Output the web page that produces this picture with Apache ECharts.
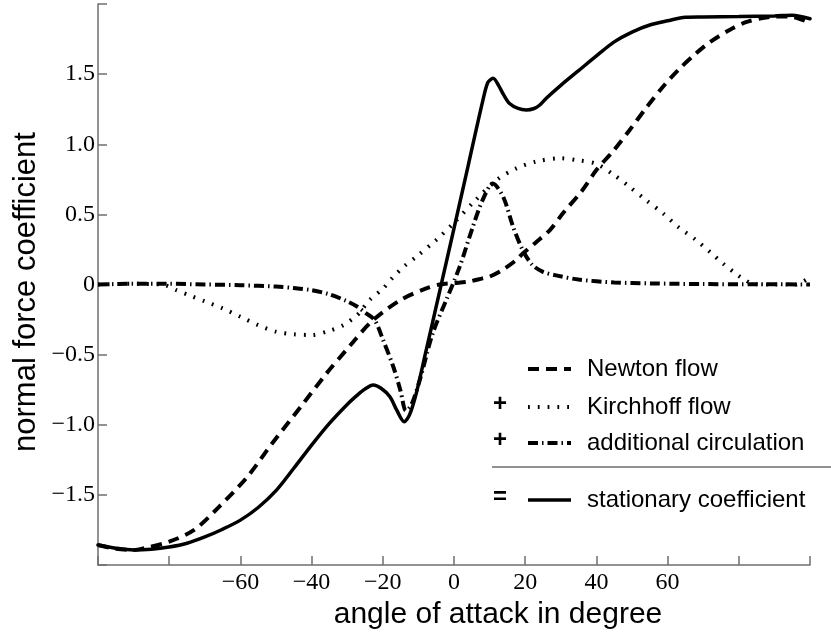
<!DOCTYPE html>
<html>
<head>
<meta charset="utf-8">
<script src="https://cdn.jsdelivr.net/npm/echarts@6/dist/echarts.min.js"></script>
<style>
  html, body { margin: 0; padding: 0; background: #fff; }
  #container { width: 831px; height: 639px; }
</style>
</head>
<body>
<div id="container"></div>
<script>
// angle of attack (deg) and coefficient
const newtonAngle = [-100, -95, -90, -87, -80, -73, -66, -58, -51, -43, -36, -29, -23, -15, -8, -4, 0, 4, 8, 10, 14, 17.5, 19.4, 23, 27, 30.6, 36, 40, 45, 49.3, 54, 58.7, 63, 68, 72, 77.4, 82, 86.7, 90, 94, 97, 100]
const newtonValue = [-1.857, -1.885, -1.893, -1.88, -1.834, -1.75, -1.585, -1.37, -1.13, -0.87, -0.64, -0.43, -0.26, -0.11, -0.03, 0.0, 0.01, 0.02, 0.044, 0.056, 0.11, 0.175, 0.222, 0.3, 0.39, 0.508, 0.67, 0.816, 0.96, 1.1, 1.26, 1.41, 1.53, 1.648, 1.73, 1.815, 1.87, 1.9, 1.91, 1.91, 1.895, 1.865]

const kirchhoffAngle = [-100, -90, -82, -78, -74, -70, -65, -60, -55, -50, -45, -40, -35, -31, -28, -26.5, -23.7, -20, -17, -14, -10.6, -5, 0, 6, 12, 17.5, 23, 29.7, 35, 40, 45, 49.3, 54, 58.7, 63, 68, 72, 75.5, 79, 81, 84, 88, 96, 98, 100]
const kirchhoffValue = [0, 0.005, 0, -0.04, -0.08, -0.12, -0.17, -0.23, -0.29, -0.336, -0.355, -0.36, -0.33, -0.289, -0.235, -0.2, -0.11, -0.03, 0.056, 0.13, 0.198, 0.317, 0.44, 0.6, 0.745, 0.828, 0.876, 0.9, 0.885, 0.86, 0.78, 0.697, 0.6, 0.508, 0.41, 0.317, 0.23, 0.151, 0.08, 0.044, 0.005, 0, 0, 0.02, 0.05]

const circulationAngle = [-100, -90, -80, -70, -60, -50, -45, -40, -35, -30, -27, -25, -22.3, -20, -17, -15, -13.5, -12, -9.6, -6, -2, 1.6, 5.3, 8, 10.9, 13.8, 16.6, 19.4, 22, 25, 28.7, 35, 45, 55, 70, 85, 100]
const circulationValue = [0, 0.005, 0.005, 0, -0.005, -0.015, -0.025, -0.04, -0.07, -0.12, -0.16, -0.2, -0.253, -0.39, -0.59, -0.76, -0.9, -0.86, -0.68, -0.35, -0.1, 0.127, 0.412, 0.6, 0.72, 0.626, 0.412, 0.24, 0.14, 0.09, 0.065, 0.035, 0.015, 0.008, 0.003, 0.002, 0]

const stationaryAngle = [-100, -95, -90, -85, -80, -75, -70, -65, -60, -55, -50, -45, -40, -35, -30, -27, -25, -22.7, -20.5, -18, -16, -14, -12.5, -10.6, -8, -4, 0, 4, 8, 9.5, 11, 12.5, 14, 15.6, 18, 20.3, 22.5, 24.1, 26, 30, 35, 40, 45, 50, 55, 60, 65, 70, 80, 90, 95, 100]
const stationaryValue = [-1.857, -1.88, -1.893, -1.888, -1.872, -1.845, -1.8, -1.745, -1.68, -1.59, -1.47, -1.31, -1.145, -0.99, -0.855, -0.785, -0.745, -0.717, -0.74, -0.8, -0.9, -0.978, -0.93, -0.776, -0.49, -0.045, 0.4, 0.85, 1.3, 1.44, 1.47, 1.42, 1.35, 1.29, 1.255, 1.244, 1.255, 1.28, 1.33, 1.42, 1.525, 1.63, 1.73, 1.8, 1.85, 1.88, 1.905, 1.907, 1.91, 1.915, 1.92, 1.895]

const xLabelled = [-60, -40, -20, 0, 20, 40, 60]
const yLabelled = [-1.5, -1, -0.5, 0, 0.5, 1, 1.5]

const legendNames = ['Newton flow', 'Kirchhoff flow', 'additional circulation', 'stationary coefficient']

const pairs = (xs, ys) => xs.map((x, i) => [x, ys[i]])

const signed = (v, digits) => {
    const s = Math.abs(v).toFixed(digits)
    return v < 0 ? '\u2212' + s : s
}

const serif = 'Liberation Serif'
const sans = 'Liberation Sans'
const axisColor = '#6f6f6f'

const styles = {
    newton: { color: '#000', width: 4, type: [11, 7], cap: 'butt' },
    kirchhoff: { color: '#000', width: 4, type: [1.8, 8], cap: 'butt' },
    circulation: { color: '#000', width: 4, type: [10, 4, 1.5, 4], cap: 'butt' },
    stationary: { color: '#000', width: 3.5, type: 'solid', cap: 'round' }
}

const chart = echarts.init(document.getElementById('container'), null, { renderer: 'canvas' })

const lineSeries = (name, data, style) => ({
    name: name,
    type: 'line',
    data: data,
    showSymbol: false,
    smooth: 0.3,
    lineStyle: style,
    z: 3
})

// hand-made legend: the reference uses "+", "=" and a rule
const rowY = [369, 407, 443, 500]
const rowStyle = [styles.newton, styles.kirchhoff, styles.circulation, styles.stationary]
const rowSign = ['', '+', '+', '=']
const legendGraphics = []
rowY.forEach((y, i) => {
    legendGraphics.push({
        type: 'line',
        shape: { x1: 528, y1: y, x2: 571, y2: y },
        style: { stroke: '#000', lineWidth: rowStyle[i].width, lineDash: rowStyle[i].type === 'solid' ? null : rowStyle[i].type }
    })
    legendGraphics.push({
        type: 'text',
        x: 587, y: y,
        style: { text: legendNames[i], font: '24px ' + sans, fill: '#000', verticalAlign: 'middle', align: 'left' }
    })
    if (rowSign[i]) {
        legendGraphics.push({
            type: 'text',
            x: 500, y: y - 3,
            style: { text: rowSign[i], font: 'bold 24px ' + sans, fill: '#000', verticalAlign: 'middle', align: 'center' }
        })
    }
})
legendGraphics.push({
    type: 'line',
    shape: { x1: 492, y1: 467, x2: 831, y2: 467 },
    style: { stroke: '#222', lineWidth: 1 }
})

const option = {
    animation: false,
    backgroundColor: '#fff',
    grid: { left: 98, right: 21, top: 4, bottom: 74 },
    xAxis: {
        type: 'value',
        min: -100,
        max: 100,
        interval: 20,
        axisLine: { onZero: false, lineStyle: { color: axisColor, width: 1.5 } },
        axisTick: { inside: true, length: 9, lineStyle: { color: axisColor, width: 1.5 } },
        axisLabel: {
            margin: 6,
            color: '#000',
            fontFamily: serif,
            fontSize: 24,
            formatter: (v) => xLabelled.includes(v) ? signed(v, 0) : ''
        },
        splitLine: { show: false }
    },
    yAxis: {
        type: 'value',
        min: -2,
        max: 2,
        interval: 0.5,
        axisLine: { show: true, onZero: false, lineStyle: { color: axisColor, width: 1.5 } },
        axisTick: { show: true, inside: true, length: 9, lineStyle: { color: axisColor, width: 1.5 } },
        axisLabel: {
            margin: 3,
            color: '#000',
            fontFamily: serif,
            fontSize: 24,
            formatter: (v) => {
                if (!yLabelled.includes(v)) return ''
                return v === 0 ? '0' : signed(v, 1)
            }
        },
        splitLine: { show: false }
    },
    graphic: [
        {
            type: 'text',
            x: 498, y: 615,
            style: { text: 'angle of attack in degree', font: '30px ' + sans, fill: '#000', align: 'center', verticalAlign: 'middle' }
        },
        {
            type: 'text',
            x: 26, y: 292,
            rotation: Math.PI / 2,
            style: { text: 'normal force coefficient', font: '31px ' + sans, fill: '#000', align: 'center', verticalAlign: 'middle' }
        },
        ...legendGraphics
    ],
    series: [
        lineSeries(legendNames[0], pairs(newtonAngle, newtonValue), styles.newton),
        lineSeries(legendNames[1], pairs(kirchhoffAngle, kirchhoffValue), styles.kirchhoff),
        lineSeries(legendNames[2], pairs(circulationAngle, circulationValue), styles.circulation),
        lineSeries(legendNames[3], pairs(stationaryAngle, stationaryValue), styles.stationary)
    ]
}

chart.setOption(option)
</script>
</body>
</html>
